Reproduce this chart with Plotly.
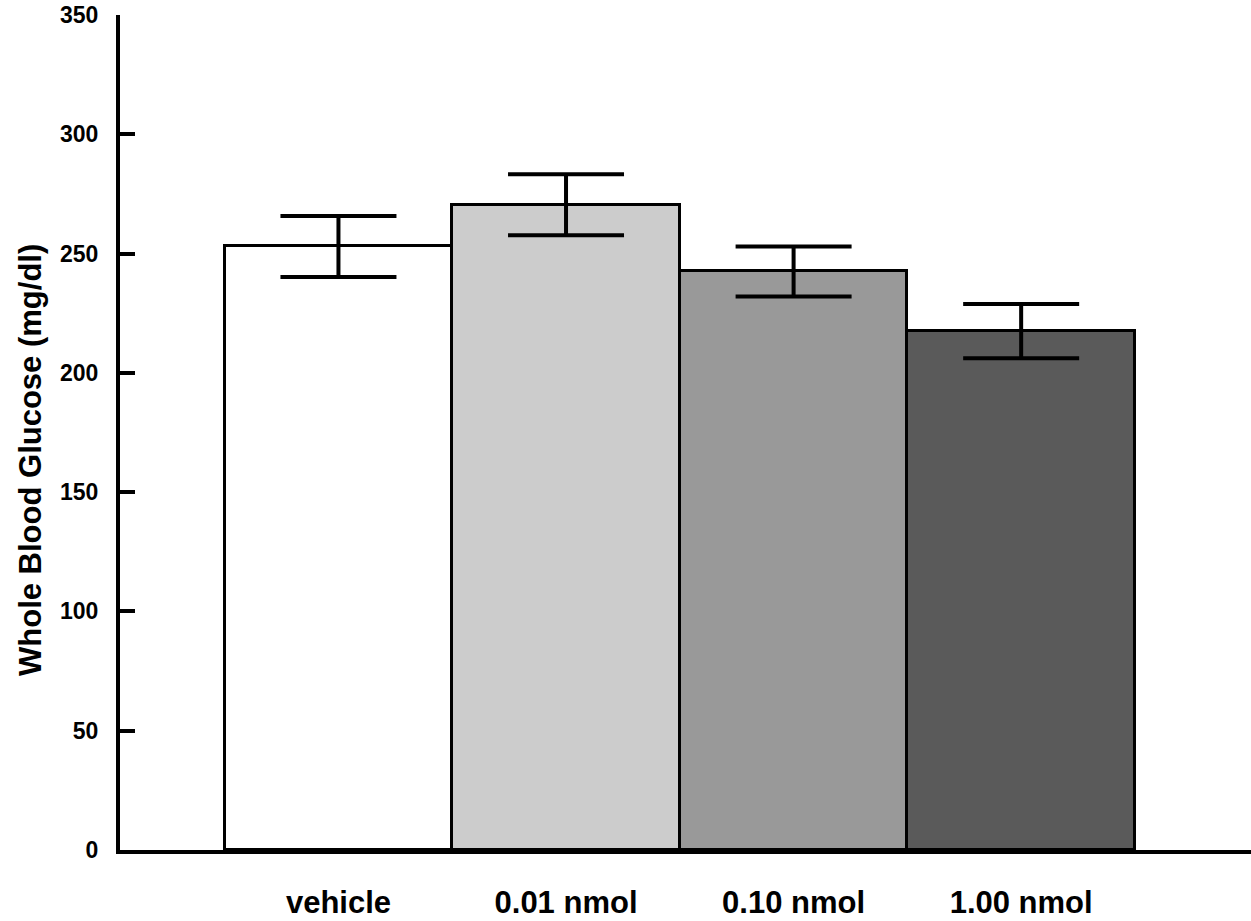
import plotly.graph_objects as go

categories = ["vehicle", "0.01 nmol", "0.10 nmol", "1.00 nmol"]
glucose = [253, 270.5, 242.5, 217.5]
sem = [12.8, 12.8, 10.5, 11.4]
bar_colors = ["#ffffff", "#cccccc", "#999999", "#5a5a5a"]
y_ticks = [0, 50, 100, 150, 200, 250, 300, 350]
y_title = "Whole Blood Glucose (mg/dl)"

fig = go.Figure()
fig.add_trace(go.Bar(
    x=list(range(len(categories))),
    y=glucose,
    width=1.0,
    marker=dict(color=bar_colors, line=dict(color="black", width=3)),
    error_y=dict(type="data", array=sem, visible=True, color="black",
                 thickness=4, width=58),
    showlegend=False,
))

font_family = "Liberation Sans, Arial, sans-serif"
fig.update_layout(
    width=1251, height=921,
    margin=dict(l=120, r=0, t=15, b=71),
    paper_bgcolor="white", plot_bgcolor="white",
    bargap=0,
    font=dict(family=font_family, color="black"),
    xaxis=dict(
        range=[-0.96, 4.01],
        automargin=False,
        tickmode="array",
        tickvals=list(range(len(categories))),
        ticktext=categories,
        tickfont=dict(size=31, weight="bold", family=font_family),
        showline=True, linecolor="black", linewidth=4,
        ticks="", showgrid=False, zeroline=False,
        ticklabelstandoff=22,
    ),
    yaxis=dict(
        range=[0, 350],
        automargin=False,
        tickmode="array",
        tickvals=y_ticks,
        tickfont=dict(size=23, weight="bold", family=font_family),
        showline=True, linecolor="black", linewidth=4,
        ticks="inside", ticklen=15, tickwidth=4, tickcolor="black",
        showgrid=False, zeroline=False,
        ticklabelstandoff=13,
    ),
    annotations=[dict(
        text=y_title, textangle=-90, showarrow=False,
        xref="paper", yref="paper",
        x=(30 - 120) / 1131, y=(850 - 460) / 835,
        xanchor="center", yanchor="middle",
        font=dict(size=31, weight="bold", family=font_family, color="black"),
    )],
)

fig.write_html("out.html",
               config={"displayModeBar": False},
               post_script="document.body.style.margin='0';document.body.style.overflow='hidden';")
